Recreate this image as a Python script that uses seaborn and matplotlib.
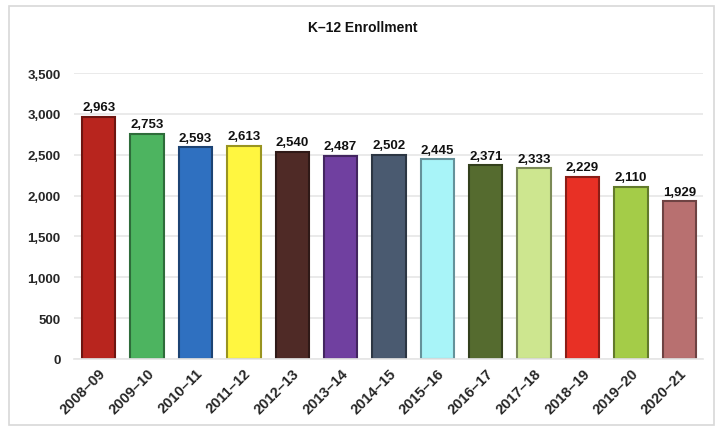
import matplotlib
matplotlib.use("Agg")
import matplotlib.pyplot as plt
import seaborn as sns
import pandas as pd
from matplotlib.patches import Rectangle

years = ["2008–09", "2009–10", "2010–11", "2011–12", "2012–13", "2013–14", "2014–15",
         "2015–16", "2016–17", "2017–18", "2018–19", "2019–20", "2020–21"]
enrollment = [2963, 2753, 2593, 2613, 2540, 2487, 2502, 2445, 2371, 2333, 2229, 2110, 1929]
colors = ["#B8251E", "#4DB460", "#2F70C0", "#FFF640", "#4F2A26", "#7040A0", "#4A5A70",
          "#A8F4F8", "#556B2F", "#CDE68F", "#E83025", "#A4CC48", "#B87070"]
edges = ["#6E1510", "#2E6C3A", "#1C4373", "#999420", "#2F1917", "#432660", "#2C3643",
         "#65929A", "#33401C", "#7B8A56", "#8B1D16", "#627A2B", "#6E4343"]

sns.set_theme(style="white")
plt.rcParams['font.family'] = ['Liberation Sans', 'DejaVu Sans']

df = pd.DataFrame({"year": years, "value": enrollment})

fig = plt.figure(figsize=(7.23, 4.31), dpi=100)
ax = fig.add_axes([0.103, 0.165, 0.870, 0.663])
fig.patches.append(Rectangle((0.012, 0.012), 0.975, 0.972, transform=fig.transFigure,
                             fill=False, edgecolor="#D8D8D8", linewidth=1.2))

sns.barplot(data=df, x="year", y="value", hue="year", palette=colors, legend=False,
            width=0.69, ax=ax, linewidth=1.5, saturation=1)
for patch, ec in zip(ax.patches, edges):
    patch.set_edgecolor(ec)

ax.set_ylim(0, 3500)
ax.set_xlim(-0.5, len(years) - 0.5)
ax.set_yticks(range(0, 3501, 500))
ax.set_yticklabels([f"{v:,}" for v in range(0, 3501, 500)], fontsize=9.5, fontweight="bold")
ax.yaxis.grid(True, color="#E6E6E6", linewidth=1.2)
ax.set_axisbelow(True)
for s in ["top", "right", "left"]:
    ax.spines[s].set_visible(False)
ax.spines["bottom"].set_color("#E6E6E6")
ax.tick_params(axis="y", length=0, pad=10)
ax.tick_params(axis="x", length=0, pad=5)
ax.set_xticks(range(len(years)))
ax.set_xticklabels(years, rotation=45, ha="right", rotation_mode="anchor",
                   fontsize=10.5, fontweight="bold")
ax.set_xlabel("")
ax.set_ylabel("")

for i, v in enumerate(enrollment):
    ax.text(i, v + 45, f"{v:,}", ha="center", va="bottom", fontsize=9.5, fontweight="bold",
            color="#111111")

fig.text(0.502, 0.935, "K–12 Enrollment", ha="center", va="center", fontsize=10,
         fontweight="bold", color="#111111")

fig.savefig("out.png", dpi=100)
